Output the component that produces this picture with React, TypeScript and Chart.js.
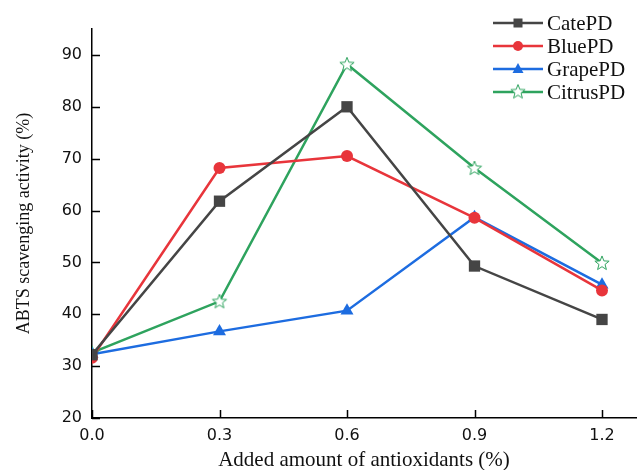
import React, { useEffect, useRef } from "react";
import { Chart, registerables } from "chart.js";

Chart.register(...registerables);

const xValues = [0.0, 0.3, 0.6, 0.9, 1.2];
const cateValues = [32.2, 61.8, 80.0, 49.3, 39.0];
const blueValues = [31.6, 68.2, 70.5, 58.6, 44.6];
const grapeValues = [32.3, 36.7, 40.7, 58.7, 45.7];
const citrusValues = [32.6, 42.5, 88.2, 68.2, 49.9];
const seriesLabels = ["CatePD", "BluePD", "GrapePD", "CitrusPD"];
const xTickValues = [0.0, 0.3, 0.6, 0.9, 1.2];
const yTickValues = [20, 30, 40, 50, 60, 70, 80, 90];

const COLORS = ["#454545", "#e8353b", "#1d6ce0", "#2ea35e"];

function makeStar(color: string): HTMLCanvasElement {
  const c = document.createElement("canvas");
  const s = 18;
  c.width = s;
  c.height = s;
  const g = c.getContext("2d")!;
  const cx = s / 2, cy = s / 2 + 0.5, R = 7.5, r = 3.2;
  g.beginPath();
  for (let i = 0; i < 10; i++) {
    const ang = -Math.PI / 2 + (i * Math.PI) / 5;
    const rad = i % 2 === 0 ? R : r;
    const px = cx + rad * Math.cos(ang);
    const py = cy + rad * Math.sin(ang);
    if (i === 0) g.moveTo(px, py);
    else g.lineTo(px, py);
  }
  g.closePath();
  g.fillStyle = "#ffffff";
  g.fill();
  g.lineWidth = 1;
  g.strokeStyle = color;
  g.stroke();
  return c;
}

export default function App() {
  const ref = useRef<HTMLCanvasElement | null>(null);

  useEffect(() => {
    if (!ref.current) return;
    const star = makeStar(COLORS[3]);
    const series = [cateValues, blueValues, grapeValues, citrusValues];
    const styles: any[] = ["rect", "circle", "triangle", star];
    const radii = [8, 6, 7.5, 9];

    const datasets = series.map((vals, i) => ({
      label: seriesLabels[i],
      data: xValues.map((x, j) => ({ x, y: vals[j] })),
      borderColor: COLORS[i],
      backgroundColor: COLORS[i],
      borderWidth: 2.5,
      pointStyle: styles[i],
      pointRadius: radii[i],
      pointBorderWidth: 0,
      pointBackgroundColor: COLORS[i],
      showLine: true,
      tension: 0,
    }));

    const inwardTicks = {
      id: "inwardTicks",
      afterDraw(chart: any) {
        const { ctx, chartArea, scales } = chart;
        const len = 8;
        ctx.save();
        ctx.strokeStyle = "#000";
        ctx.lineWidth = 1.5;
        ctx.beginPath();
        xTickValues.forEach((v) => {
          const px = Math.round(scales.x.getPixelForValue(v)) + 0.5;
          ctx.moveTo(px, chartArea.bottom);
          ctx.lineTo(px, chartArea.bottom - len);
        });
        yTickValues.forEach((v) => {
          const py = Math.round(scales.y.getPixelForValue(v)) + 0.5;
          ctx.moveTo(chartArea.left, py);
          ctx.lineTo(chartArea.left + len, py);
        });
        ctx.stroke();
        ctx.restore();
      },
    };

    const customLegend = {
      id: "customLegend",
      afterDraw(chart: any) {
        const { ctx } = chart;
        const x0 = 493, x1 = 543, tx = 547;
        const ys = [23, 46, 69, 92];
        ctx.save();
        chart.data.datasets.forEach((ds: any, i: number) => {
          const y = ys[i];
          ctx.strokeStyle = ds.borderColor;
          ctx.lineWidth = 2.5;
          ctx.beginPath();
          ctx.moveTo(x0, y);
          ctx.lineTo(x1, y);
          ctx.stroke();
          const mx = (x0 + x1) / 2;
          const st = ds.pointStyle;
          ctx.fillStyle = ds.borderColor;
          if (st === "rect") {
            ctx.fillRect(mx - 4.5, y - 4.5, 9, 9);
          } else if (st === "circle") {
            ctx.beginPath();
            ctx.arc(mx, y, 5, 0, Math.PI * 2);
            ctx.fill();
          } else if (st === "triangle") {
            ctx.beginPath();
            ctx.moveTo(mx, y - 6);
            ctx.lineTo(mx + 5.5, y + 4);
            ctx.lineTo(mx - 5.5, y + 4);
            ctx.closePath();
            ctx.fill();
          } else {
            ctx.drawImage(st, mx - 9, y - 9.5);
          }
          ctx.fillStyle = "#111";
          ctx.font = '21px "Liberation Serif", "Times New Roman", serif';
          ctx.textBaseline = "middle";
          ctx.textAlign = "left";
          ctx.fillText(ds.label, tx, y + 1);
        });
        ctx.restore();
      },
    };

    const chart = new Chart(ref.current, {
      type: "scatter",
      data: { datasets },
      plugins: [inwardTicks, customLegend],
      options: {
        animation: false,
        responsive: false,
        maintainAspectRatio: false,
        layout: { autoPadding: false, padding: { top: 29, right: 2, left: 0, bottom: 0 } },
        plugins: {
          legend: { display: false },
          tooltip: { enabled: false },
        },
        scales: {
          x: {
            type: "linear",
            min: 0,
            max: 1.28,
            afterFit: (s: any) => {
              s.height = 52;
              s.paddingRight = 0;
              s.paddingLeft = 0;
            },
            ticks: {
              stepSize: 0.3,
              includeBounds: false,
              padding: 8,
              maxRotation: 0,
              color: "#111",
              font: { family: '"DejaVu Sans", sans-serif', size: 16 },
              callback: (v: any) => Number(v).toFixed(1),
            },
            grid: { display: false, drawTicks: false },
            border: { display: true, color: "#000", width: 1.5 },
            title: {
              display: true,
              text: "Added amount of antioxidants (%)",
              color: "#111",
              font: { family: '"Liberation Serif", "Times New Roman", serif', size: 21, lineHeight: 1 },
              padding: { top: 0, bottom: -1 },
            },
          },
          y: {
            type: "linear",
            min: 20,
            max: 95,
            afterFit: (s: any) => {
              s.width = 92;
              s.paddingTop = 0;
              s.paddingBottom = 0;
            },
            ticks: {
              stepSize: 10,
              includeBounds: false,
              padding: 10,
              color: "#111",
              font: { family: '"DejaVu Sans", sans-serif', size: 16 },
            },
            grid: { display: false, drawTicks: false },
            border: { display: true, color: "#000", width: 1.5 },
            title: {
              display: true,
              text: "ABTS scavenging activity (%)",
              color: "#111",
              font: { family: '"Liberation Serif", "Times New Roman", serif', size: 18, lineHeight: 1 },
              padding: { top: 15, bottom: 0 },
            },
          },
        },
      },
    } as any);

    return () => chart.destroy();
  }, []);

  return (
    <div style={{ position: "fixed", left: 0, top: 0, width: 638, height: 470, background: "#fff" }}>
      <canvas ref={ref} width={638} height={470} style={{ display: "block" }} />
    </div>
  );
}
